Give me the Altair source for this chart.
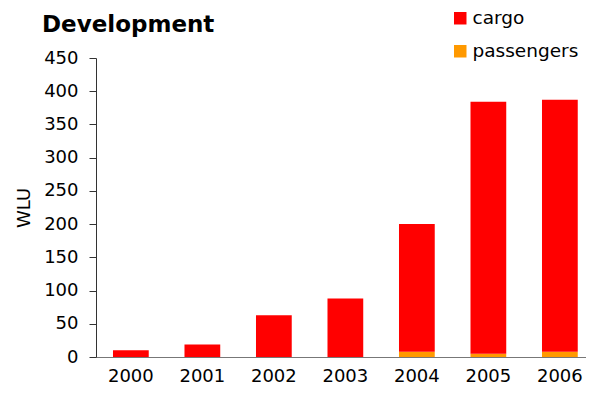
import altair as alt
import pandas as pd

years = ["2000", "2001", "2002", "2003", "2004", "2005", "2006"]
totals = [10, 19, 63, 88, 200, 384, 387]
passengers = [0, 0, 0, 0, 8, 5, 8]
cargo = [t - p for t, p in zip(totals, passengers)]
series = ["cargo", "passengers"]
colors = ["#FF0000", "#FF9900"]
y_ticks = [0, 50, 100, 150, 200, 250, 300, 350, 400, 450]

rows = []
for y, c, p in zip(years, cargo, passengers):
    rows.append({"year": y, "series": "passengers", "value": p, "ord": 0})
    rows.append({"year": y, "series": "cargo", "value": c, "ord": 1})
df = pd.DataFrame(rows)

FONT = "DejaVu Sans"

chart = alt.Chart(df).mark_bar().encode(
    x=alt.X("year:N", title=None,
            scale=alt.Scale(paddingInner=0.5, paddingOuter=0.1765, align=0.673),
            axis=alt.Axis(labelAngle=0, ticks=False, labelPadding=10,
                          labelFontSize=18, labelFont=FONT, labelColor="#000",
                          domainColor="#777", grid=False)),
    y=alt.Y("value:Q", stack="zero", title="WLU",
            scale=alt.Scale(domain=[0, 450], nice=False),
            axis=alt.Axis(values=y_ticks, grid=False, tickSize=7, labelPadding=11,
                          labelFontSize=18, labelFont=FONT, labelColor="#000",
                          titleFontSize=18, titleFont=FONT, titleFontWeight="normal",
                          titleColor="#000", titlePadding=10,
                          domainColor="#333", tickColor="#333")),
    color=alt.Color("series:N",
                    scale=alt.Scale(domain=series, range=colors),
                    legend=alt.Legend(title=None, orient="none", legendX=355, legendY=-49,
                                      symbolType="square", symbolSize=156,
                                      symbolStrokeWidth=0, labelFontSize=18.5,
                                      labelFont=FONT, labelColor="#000",
                                      labelOffset=3, rowPadding=14, padding=0)),
    order=alt.Order("ord:Q"),
).properties(
    width=490,
    height=299,
    title=alt.TitleParams("Development", anchor="start", frame="group", dx=-54, dy=24,
                          fontSize=23, font=FONT, fontWeight="bold", color="#000",
                          baseline="alphabetic", offset=-22),
    padding={"left": 88, "top": 50, "right": 0, "bottom": 29},
    autosize=alt.AutoSizeParams(type="none"),
).configure_view(stroke=None)

chart.save("out.html", embed_options={"renderer": "svg", "actions": False})
